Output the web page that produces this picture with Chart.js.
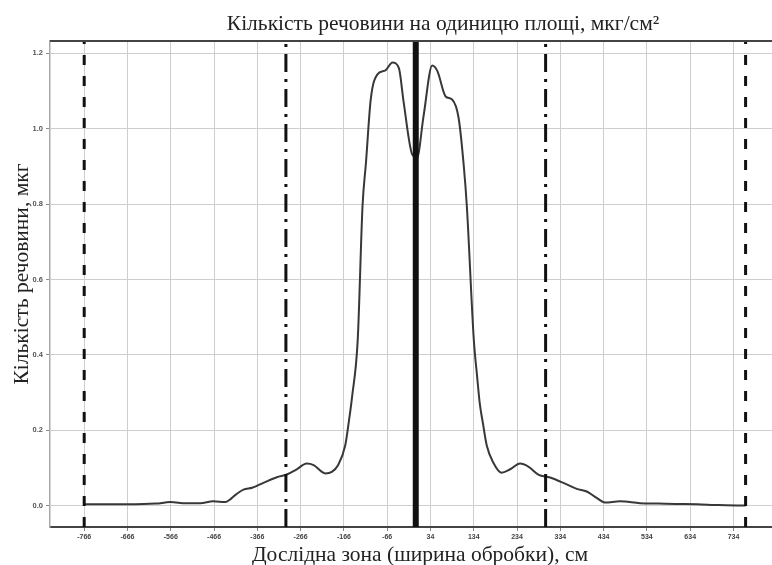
<!DOCTYPE html>
<html lang="uk">
<head>
<meta charset="utf-8">
<title>Кількість речовини на одиницю площі</title>
<script src="https://cdn.jsdelivr.net/npm/chart.js@4/dist/chart.umd.min.js"></script>
<style>
    body { margin: 0; background: #fff; }
    #wrap { width: 772px; height: 565px; position: relative; }
</style>
</head>
<body>
<div id="wrap"><canvas id="grafik"></canvas></div>
<script>
// Дані: положення (см) і кількість речовини (мкг)
const pozytsii = [-766, -700, -666, -600, -567, -530, -498, -468, -440, -428, -421, -398, -378, -352, -321, -298, -275, -252, -236, -209,
    -194, -180, -163, -155, -147, -134, -123, -115, -104, -89, -70, -54, -39, -28, -8, 3, 18, 38, 50, 69,
    84, 99, 111, 118, 134, 142, 148, 155, 164, 179, 198, 218, 241, 260, 283, 310, 341, 372, 395, 418,
    437, 472, 518, 560, 600, 650, 700, 762];
const kilkist = [0.004, 0.004, 0.004, 0.006, 0.010, 0.007, 0.007, 0.012, 0.010, 0.018, 0.025, 0.043, 0.048, 0.061, 0.076, 0.083, 0.097, 0.112, 0.108, 0.086,
    0.090, 0.107, 0.160, 0.220, 0.290, 0.442, 0.794, 0.910, 1.077, 1.143, 1.154, 1.175, 1.160, 1.070, 0.931, 0.923, 1.033, 1.167, 1.152, 1.085,
    1.077, 1.028, 0.900, 0.794, 0.442, 0.340, 0.270, 0.220, 0.160, 0.115, 0.088, 0.097, 0.112, 0.104, 0.083, 0.075, 0.061, 0.045, 0.038, 0.021,
    0.009, 0.012, 0.007, 0.006, 0.005, 0.004, 0.002, 0.001];

// Мітки осей
const xMitky = [-766, -666, -566, -466, -366, -266, -166, -66, 34, 134, 234, 334, 434, 534, 634, 734];
const yMitky = [0, 0.2, 0.4, 0.6, 0.8, 1.0, 1.2];

// Вертикальні межі зон
const mezhiShtrykh = [-766, 762];
const mezhiShtrykhPunktyr = [-300, 300];
const tsentr = [0];

const xMin = -845, xMax = 823;
const yMin = -0.056, yMax = 1.232;

// Підписи
const zagolovok = 'Кількість речовини на одиницю площі, мкг/см²';
const pidpysX = 'Дослідна зона (ширина обробки), см';
const pidpysY = 'Кількість речовини, мкг';

const shryftZagolovka = '21.5px "Liberation Serif", "DejaVu Serif", serif';
const rodynaMitok = '"Liberation Sans Narrow", "Liberation Sans", sans-serif';

// Функція для вертикальної лінії через усю висоту графіка
function vertykal(x, shyryna, shtrykh) {
    return {
        type: 'line',
        data: [{ x: x, y: yMin }, { x: x, y: yMax }],
        borderColor: '#111',
        borderWidth: shyryna,
        borderDash: shtrykh,
        pointRadius: 0,
        fill: false
    };
}

// Верхня рамка і підписи графіка
const ramkaIPidpysy = {
    id: 'ramkaIPidpysy',
    afterDraw(chart) {
        const ctx = chart.ctx;
        const a = chart.chartArea;
        ctx.save();
        ctx.strokeStyle = '#444';
        ctx.lineWidth = 2;
        ctx.beginPath();
        ctx.moveTo(a.left, a.top);
        ctx.lineTo(a.right, a.top);
        ctx.stroke();

        ctx.fillStyle = '#222';
        ctx.font = shryftZagolovka;
        ctx.textAlign = 'center';
        ctx.textBaseline = 'alphabetic';
        ctx.fillText(zagolovok, 443, 30);
        ctx.fillText(pidpysX, 420, 561);

        ctx.translate(28, 274);
        ctx.rotate(-Math.PI / 2);
        ctx.fillText(pidpysY, 0, 0);
        ctx.restore();
    }
};

const datasets = [];
mezhiShtrykh.forEach(x => datasets.push(vertykal(x, 3, [10, 11])));
mezhiShtrykhPunktyr.forEach(x => datasets.push(vertykal(x, 3, [18, 7, 3, 7])));
tsentr.forEach(x => datasets.push(vertykal(x, 6, [])));
datasets.push({
    type: 'line',
    data: pozytsii.map((x, i) => ({ x: x, y: kilkist[i] })),
    borderColor: '#383838',
    borderWidth: 2,
    pointRadius: 0,
    cubicInterpolationMode: 'monotone',
    fill: false
});

new Chart(document.getElementById('grafik'), {
    type: 'scatter',
    data: { datasets: datasets },
    options: {
        responsive: true,
        maintainAspectRatio: false,
        animation: false,
        layout: { padding: { top: 41, right: 0, left: 0, bottom: 0 } },
        plugins: {
            legend: { display: false },
            tooltip: { enabled: false },
            title: { display: false }
        },
        scales: {
            x: {
                type: 'linear',
                min: xMin,
                max: xMax,
                afterBuildTicks: axis => { axis.ticks = xMitky.map(v => ({ value: v })); },
                afterFit: scale => { scale.height = 38; },
                ticks: {
                    autoSkip: false,
                    maxRotation: 0,
                    padding: 2,
                    color: '#444',
                    font: { family: rodynaMitok, size: 7, weight: 'bold' },
                    callback: v => String(v)
                },
                grid: { color: '#cdcdd2', lineWidth: 1, tickLength: 4, tickColor: '#888' },
                border: { color: '#444', width: 2 }
            },
            y: {
                type: 'linear',
                min: yMin,
                max: yMax,
                afterBuildTicks: axis => { axis.ticks = yMitky.map(v => ({ value: v })); },
                afterFit: scale => { scale.width = 50; },
                ticks: {
                    padding: 3,
                    color: '#555',
                    font: { family: rodynaMitok, size: 7.5, weight: 'bold' },
                    callback: v => v.toFixed(1)
                },
                grid: { color: '#cdcdd2', lineWidth: 1, tickLength: 4, tickColor: '#888' },
                border: { color: '#aaa', width: 1.5 }
            }
        }
    },
    plugins: [ramkaIPidpysy]
});
</script>
</body>
</html>
